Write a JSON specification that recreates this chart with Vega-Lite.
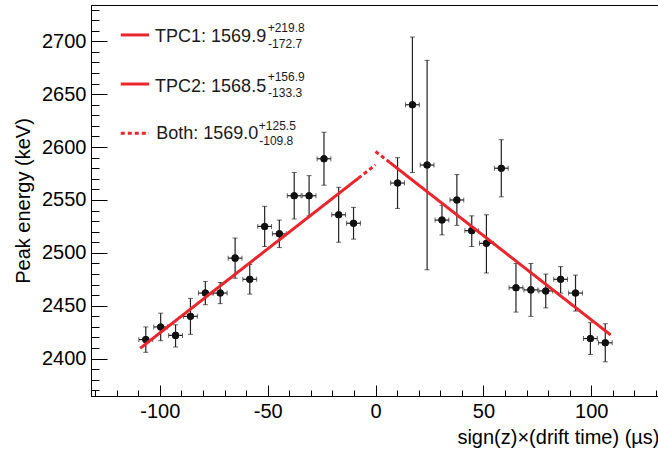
{
  "$schema": "https://vega.github.io/schema/vega-lite/v6.json",
  "width": 568,
  "height": 391,
  "autosize": {"type": "none"},
  "padding": {"left": 91, "top": 5, "right": 0, "bottom": 54},
  "background": "white",
  "config": {
    "font": "Liberation Sans",
    "view": {"stroke": "black", "strokeWidth": 1},
    "axis": {
      "grid": false,
      "domainColor": "black",
      "tickColor": "black",
      "labelColor": "black",
      "titleColor": "black",
      "labelFont": "Liberation Sans",
      "titleFont": "Liberation Sans",
      "titleFontWeight": "normal",
      "labelFontSize": 20,
      "titleFontSize": 20,
      "labelOverlap": false,
      "labelFlush": false
    }
  },
  "datasets": {
    "pts": [
      {"x": -106.5, "y": 2418, "ylo": 2406, "yhi": 2430, "xlo": -109.7, "xhi": -103.3},
      {"x": -99.6, "y": 2430, "ylo": 2417, "yhi": 2443, "xlo": -102.8, "xhi": -96.4},
      {"x": -92.7, "y": 2422, "ylo": 2411, "yhi": 2432, "xlo": -95.9, "xhi": -89.5},
      {"x": -85.8, "y": 2440, "ylo": 2423, "yhi": 2457, "xlo": -89.0, "xhi": -82.6},
      {"x": -78.9, "y": 2462, "ylo": 2451, "yhi": 2473, "xlo": -82.1, "xhi": -75.7},
      {"x": -72.0, "y": 2462, "ylo": 2452, "yhi": 2472, "xlo": -75.2, "xhi": -68.8},
      {"x": -65.1, "y": 2495, "ylo": 2476, "yhi": 2514, "xlo": -68.3, "xhi": -61.9},
      {"x": -58.3, "y": 2475, "ylo": 2461, "yhi": 2489, "xlo": -61.5, "xhi": -55.1},
      {"x": -51.4, "y": 2525, "ylo": 2506, "yhi": 2544, "xlo": -54.6, "xhi": -48.2},
      {"x": -44.6, "y": 2518, "ylo": 2505, "yhi": 2531, "xlo": -47.8, "xhi": -41.4},
      {"x": -37.7, "y": 2554, "ylo": 2532, "yhi": 2576, "xlo": -40.9, "xhi": -34.5},
      {"x": -30.8, "y": 2554, "ylo": 2535, "yhi": 2573, "xlo": -34.0, "xhi": -27.6},
      {"x": -23.9, "y": 2589, "ylo": 2564, "yhi": 2614, "xlo": -27.1, "xhi": -20.7},
      {"x": -17.1, "y": 2536, "ylo": 2510, "yhi": 2562, "xlo": -20.3, "xhi": -13.9},
      {"x": -10.2, "y": 2528, "ylo": 2513, "yhi": 2543, "xlo": -13.4, "xhi": -7.0},
      {"x": 10.2, "y": 2566, "ylo": 2542, "yhi": 2590, "xlo": 7.0, "xhi": 13.4},
      {"x": 17.1, "y": 2640, "ylo": 2576, "yhi": 2704, "xlo": 13.9, "xhi": 20.3},
      {"x": 23.9, "y": 2583, "ylo": 2484, "yhi": 2682, "xlo": 20.7, "xhi": 27.1},
      {"x": 30.8, "y": 2531, "ylo": 2517, "yhi": 2545, "xlo": 27.6, "xhi": 34.0},
      {"x": 37.7, "y": 2550, "ylo": 2526, "yhi": 2574, "xlo": 34.5, "xhi": 40.9},
      {"x": 44.6, "y": 2521, "ylo": 2506, "yhi": 2535, "xlo": 41.4, "xhi": 47.8},
      {"x": 51.4, "y": 2509, "ylo": 2481, "yhi": 2536, "xlo": 48.2, "xhi": 54.6},
      {"x": 58.3, "y": 2580, "ylo": 2553, "yhi": 2607, "xlo": 55.1, "xhi": 61.5},
      {"x": 65.1, "y": 2467, "ylo": 2444, "yhi": 2490, "xlo": 61.9, "xhi": 68.3},
      {"x": 72.0, "y": 2465, "ylo": 2440, "yhi": 2490, "xlo": 68.8, "xhi": 75.2},
      {"x": 78.9, "y": 2464, "ylo": 2448, "yhi": 2480, "xlo": 75.7, "xhi": 82.1},
      {"x": 85.8, "y": 2475, "ylo": 2462, "yhi": 2487, "xlo": 82.6, "xhi": 89.0},
      {"x": 92.7, "y": 2462, "ylo": 2445, "yhi": 2479, "xlo": 89.5, "xhi": 95.9},
      {"x": 99.6, "y": 2419, "ylo": 2404, "yhi": 2434, "xlo": 96.4, "xhi": 102.8},
      {"x": 106.5, "y": 2415, "ylo": 2397, "yhi": 2433, "xlo": 103.3, "xhi": 109.7}
    ],
    "fits": [
      {"series": "TPC1", "seg": "a", "x": -109.1, "y": 2409.8},
      {"series": "TPC1", "seg": "a", "x": -8.0, "y": 2570.5},
      {"series": "Both", "seg": "b", "x": -8.0, "y": 2570.5},
      {"series": "Both", "seg": "b", "x": 0.0, "y": 2583.2},
      {"series": "Both", "seg": "c", "x": 0.0, "y": 2595.8},
      {"series": "Both", "seg": "c", "x": 6.5, "y": 2585.6},
      {"series": "TPC2", "seg": "d", "x": 6.5, "y": 2585.6},
      {"series": "TPC2", "seg": "d", "x": 109.0, "y": 2422.4}
    ]
  },
  "layer": [
    {
      "layer": [
        {
          "data": {"name": "pts"},
          "mark": {"type": "circle", "size": 50, "color": "#111111", "opacity": 1},
          "encoding": {
            "x": {
              "field": "x", "type": "quantitative",
              "title": "sign(z)×(drift time) (µs)",
              "scale": {"domain": [-131.9, 131.4], "nice": false, "zero": false},
              "axis": {
                "orient": "bottom",
                "titleAnchor": "end",
                "titleAlign": "right",
                "titlePadding": 6,
                "values": [-100, -50, 0, 50, 100],
                "labelExpr": "'' + datum.value",
                "tickSize": -11,
                "labelPadding": 16
              }
            },
            "y": {
              "field": "y", "type": "quantitative",
              "title": "Peak energy (keV)",
              "scale": {"domain": [2364.7, 2734.3], "nice": false, "zero": false},
              "axis": {
                "orient": "left",
                "titlePadding": 8,
                "values": [2400, 2450, 2500, 2550, 2600, 2650, 2700],
                "labelExpr": "'' + datum.value",
                "tickSize": -16,
                "labelPadding": 21
              }
            }
          }
        },
        {
          "data": {"name": "pts"},
          "mark": {"type": "errorbar", "ticks": {"size": 5, "color": "#222222", "strokeWidth": 1.2}, "rule": {"color": "#222222", "strokeWidth": 1.2}},
          "encoding": {
            "x": {"field": "x", "type": "quantitative", "title": "sign(z)×(drift time) (µs)"},
            "y": {"field": "ylo", "type": "quantitative", "title": "Peak energy (keV)"},
            "y2": {"field": "yhi"}
          }
        },
        {
          "data": {"name": "pts"},
          "mark": {"type": "errorbar", "ticks": {"size": 5, "color": "#222222", "strokeWidth": 1.2}, "rule": {"color": "#222222", "strokeWidth": 1.2}},
          "encoding": {
            "y": {"field": "y", "type": "quantitative", "title": "Peak energy (keV)"},
            "x": {"field": "xlo", "type": "quantitative", "title": "sign(z)×(drift time) (µs)"},
            "x2": {"field": "xhi"}
          }
        },
        {
          "data": {"name": "pts"},
          "mark": {"type": "circle", "size": 50, "color": "#111111", "opacity": 1},
          "encoding": {
            "x": {"field": "x", "type": "quantitative", "title": "sign(z)×(drift time) (µs)"},
            "y": {"field": "y", "type": "quantitative", "title": "Peak energy (keV)"}
          }
        },
        {
          "data": {"name": "fits"},
          "mark": {"type": "line", "color": "#e8262c", "strokeWidth": 3, "strokeCap": "butt"},
          "encoding": {
            "x": {"field": "x", "type": "quantitative", "title": "sign(z)×(drift time) (µs)"},
            "y": {"field": "y", "type": "quantitative", "title": "Peak energy (keV)"},
            "detail": {"field": "seg"},
            "strokeDash": {"field": "series", "type": "nominal", "scale": {"domain": ["TPC1", "TPC2", "Both"], "range": [[1, 0], [1, 0], [4, 3]]}, "legend": null}
          }
        },
        {
          "data": {"values": [{}]},
          "mark": {"type": "rule", "color": "#e8262c", "strokeWidth": 3},
          "encoding": {"x": {"datum": -118.1}, "x2": {"datum": -105.0}, "y": {"datum": 2706.0}}
        },
        {
          "data": {"values": [{}]},
          "mark": {"type": "rule", "color": "#e8262c", "strokeWidth": 3},
          "encoding": {"x": {"datum": -118.1}, "x2": {"datum": -105.0}, "y": {"datum": 2659.6}}
        },
        {
          "data": {"values": [{}]},
          "mark": {"type": "rule", "color": "#e8262c", "strokeWidth": 3, "strokeDash": [4, 3]},
          "encoding": {"x": {"datum": -118.1}, "x2": {"datum": -105.0}, "y": {"datum": 2613.0}}
        },
        {
          "data": {"values": [{}]},
          "mark": {"type": "text", "fontSize": 18, "align": "left", "baseline": "alphabetic", "color": "#1a1a1a"},
          "encoding": {"x": {"datum": -102.2}, "y": {"datum": 2699.1}, "text": {"value": "TPC1: 1569.9"}}
        },
        {
          "data": {"values": [{}]},
          "mark": {"type": "text", "fontSize": 12, "align": "left", "baseline": "alphabetic", "color": "#1a1a1a"},
          "encoding": {"x": {"datum": -50.0}, "y": {"datum": 2709.1}, "text": {"value": "+219.8"}}
        },
        {
          "data": {"values": [{}]},
          "mark": {"type": "text", "fontSize": 12, "align": "left", "baseline": "alphabetic", "color": "#1a1a1a"},
          "encoding": {"x": {"datum": -49.8}, "y": {"datum": 2693.9}, "text": {"value": "-172.7"}}
        },
        {
          "data": {"values": [{}]},
          "mark": {"type": "text", "fontSize": 18, "align": "left", "baseline": "alphabetic", "color": "#1a1a1a"},
          "encoding": {"x": {"datum": -102.2}, "y": {"datum": 2652.4}, "text": {"value": "TPC2: 1568.5"}}
        },
        {
          "data": {"values": [{}]},
          "mark": {"type": "text", "fontSize": 12, "align": "left", "baseline": "alphabetic", "color": "#1a1a1a"},
          "encoding": {"x": {"datum": -50.0}, "y": {"datum": 2662.8}, "text": {"value": "+156.9"}}
        },
        {
          "data": {"values": [{}]},
          "mark": {"type": "text", "fontSize": 12, "align": "left", "baseline": "alphabetic", "color": "#1a1a1a"},
          "encoding": {"x": {"datum": -49.8}, "y": {"datum": 2647.6}, "text": {"value": "-133.3"}}
        },
        {
          "data": {"values": [{}]},
          "mark": {"type": "text", "fontSize": 18, "align": "left", "baseline": "alphabetic", "color": "#1a1a1a"},
          "encoding": {"x": {"datum": -101.7}, "y": {"datum": 2607.4}, "text": {"value": "Both: 1569.0"}}
        },
        {
          "data": {"values": [{}]},
          "mark": {"type": "text", "fontSize": 12, "align": "left", "baseline": "alphabetic", "color": "#1a1a1a"},
          "encoding": {"x": {"datum": -54.1}, "y": {"datum": 2616.2}, "text": {"value": "+125.5"}}
        },
        {
          "data": {"values": [{}]},
          "mark": {"type": "text", "fontSize": 12, "align": "left", "baseline": "alphabetic", "color": "#1a1a1a"},
          "encoding": {"x": {"datum": -53.9}, "y": {"datum": 2602.0}, "text": {"value": "-109.8"}}
        }
      ]
    },
    {
      "data": {"values": [{}]},
      "mark": {"type": "point", "opacity": 0},
      "encoding": {
        "x": {
          "datum": 0, "type": "quantitative",
          "scale": {"domain": [-131.9, 131.4], "nice": false, "zero": false},
          "axis": {"orient": "bottom", "title": null, "labels": false, "domain": false, "tickSize": -6,
            "values": [-130, -120, -110, -90, -80, -70, -60, -40, -30, -20, -10, 10, 20, 30, 40, 60, 70, 80, 90, 110, 120, 130]}
        },
        "y": {
          "datum": 2500, "type": "quantitative",
          "scale": {"domain": [2364.7, 2734.3], "nice": false, "zero": false},
          "axis": {"orient": "left", "title": null, "labels": false, "domain": false, "tickSize": -8,
            "values": [2370, 2380, 2390, 2410, 2420, 2430, 2440, 2460, 2470, 2480, 2490, 2510, 2520, 2530, 2540, 2560, 2570, 2580, 2590, 2610, 2620, 2630, 2640, 2660, 2670, 2680, 2690, 2710, 2720, 2730]}
        }
      }
    }
  ],
  "resolve": {"scale": {"x": "independent", "y": "independent"}}
}
